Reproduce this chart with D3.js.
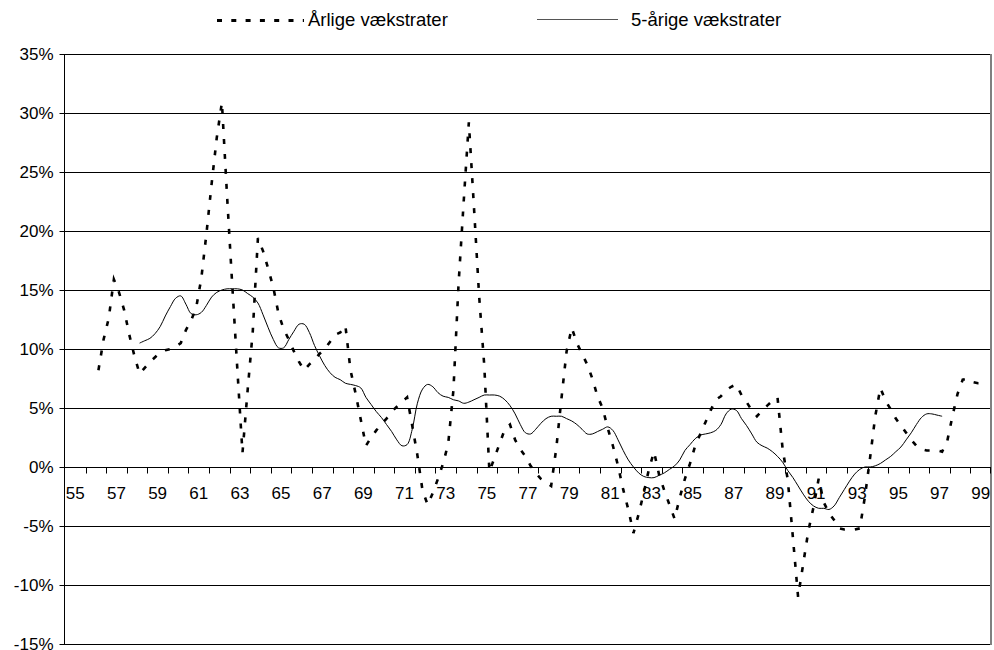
<!DOCTYPE html>
<html>
<head>
<meta charset="utf-8">
<script src="https://cdn.jsdelivr.net/npm/d3@7/dist/d3.min.js"></script>
<style>
  body { margin: 0; background: #fff; }
  svg { display: block; }
  text { font-family: Arial, "Liberation Sans", sans-serif; fill: #000; }
</style>
</head>
<body>
<div id="chart"></div>
<script>
// categories: years 1955-1999, labels every second year
var years = d3.range(55, 100);
var yearLabels = years.filter(function(d) { return d % 2 === 1; });
var yTicks = [-15, -10, -5, 0, 5, 10, 15, 20, 25, 30, 35];

var seriesNames = ["Årlige vækstrater", "5-årige vækstrater"];

// quarterly values, first value is 1956 Q3
var annualStart = [56, 3];
var annual = [
  8.2, 10.8,
  12.6, 15.9, 14.8, 13.3,
  11.2, 9.4, 7.9, 8.4,
  8.9, 9.3, 9.7, 9.9,
  10.0, 10.2, 10.5, 11.6,
  12.4, 13.5, 16.0, 19.8,
  24.0, 27.9, 30.9, 23.0,
  15.5, 8.3, 1.2, 6.5,
  11.5, 19.4, 18.3, 16.8,
  15.2, 13.0, 11.7, 10.8,
  9.8, 8.9, 8.2, 8.7,
  9.1, 9.6, 10.0, 10.6,
  11.2, 11.4, 12.0, 8.2,
  6.2, 4.0, 1.8, 2.5,
  3.1, 3.6, 4.1, 4.7,
  5.1, 5.5, 5.9, 3.5,
  1.0, -2.0, -3.2, -2.2,
  -1.0, 0.3, 2.0, 6.5,
  15.5, 22.5, 29.2, 22.0,
  14.5, 8.6, -0.4, 0.8,
  2.0, 3.2, 3.6, 2.3,
  1.5, 0.9, 0.1, -0.5,
  -1.0, -1.3, -1.6, 1.6,
  5.8, 9.8, 11.8, 10.5,
  9.6, 8.7, 7.5, 6.0,
  5.0, 3.3, 1.8, 0.1,
  -1.9, -3.6, -5.6, -4.0,
  -2.2, -0.2, 1.3, -0.7,
  -2.0, -3.2, -4.4, -2.6,
  -1.0, 0.3, 1.8, 2.8,
  3.8, 4.8, 5.7, 6.0,
  6.5, 6.8, 7.0, 6.1,
  5.5, 4.8, 4.3, 4.8,
  5.2, 5.6, 5.9, 1.5,
  -1.1, -6.0, -11.0, -8.2,
  -5.4, -3.4, -1.0, -3.0,
  -3.9, -4.5, -5.2, -5.3,
  -5.3, -5.3, -5.2, -2.5,
  0.8, 4.3, 6.7, 5.6,
  4.9, 4.1, 3.5, 2.9,
  2.3, 1.8, 1.5, 1.4,
  1.4, 1.4, 1.3, 2.2,
  4.3, 6.2, 7.4, 7.5,
  7.2, 7.1, 7.1
];

// quarterly values, first value is 1958 Q3
var fiveYearStart = [58, 3];
var fiveYear = [
  10.5, 10.7,
  10.9, 11.3, 11.9, 12.8,
  13.6, 14.3, 14.5, 13.8,
  13.0, 12.9, 13.1, 13.7,
  14.4, 14.8, 15.0, 15.1,
  15.1, 15.1, 15.0, 14.7,
  14.4, 13.9, 12.9, 11.8,
  10.8, 10.1, 10.1, 10.8,
  11.5, 12.1, 12.1, 11.4,
  10.3, 9.4, 8.6, 8.0,
  7.6, 7.4, 7.1, 7.0,
  6.9, 6.7, 5.9, 5.3,
  4.7, 4.2, 3.6, 3.0,
  2.3, 1.8, 1.9, 3.2,
  5.4, 6.6, 7.0, 6.8,
  6.3, 6.0, 5.9, 5.7,
  5.6, 5.4, 5.5, 5.7,
  5.9, 6.1, 6.1, 6.1,
  6.0, 5.7, 5.2, 4.5,
  3.6, 2.9, 2.8, 3.2,
  3.7, 4.1, 4.3, 4.3,
  4.3, 4.1, 3.9, 3.6,
  3.2, 2.8, 2.8, 3.0,
  3.2, 3.4, 3.1, 2.3,
  1.4, 0.6, 0.0, -0.5,
  -0.8, -0.9, -0.9, -0.7,
  -0.5, -0.2, 0.1, 0.6,
  1.4, 1.9, 2.4, 2.7,
  2.8, 2.9, 3.1, 3.6,
  4.5, 4.9, 4.8, 4.1,
  3.5, 2.8, 2.1, 1.8,
  1.6, 1.3, 0.9, 0.4,
  -0.3, -0.9, -1.6, -2.3,
  -2.9, -3.3, -3.5, -3.5,
  -3.6, -3.3, -2.6, -1.9,
  -1.2, -0.6, -0.2, 0.0,
  0.0, 0.1, 0.3, 0.6,
  0.9, 1.3, 1.7, 2.3,
  2.9, 3.6, 4.2, 4.5,
  4.5, 4.4, 4.3
];

(function() {
  var width = 994, height = 650;
  var plotLeft = 65, plotRight = 991, plotTop = 54, plotBottom = 644;

  var svg = d3.select("#chart").append("svg")
    .attr("width", width)
    .attr("height", height);

  var x = d3.scaleBand().domain(years).range([plotLeft, plotRight]).padding(0);
  var y = d3.scaleLinear().domain([-15, 35]).range([plotBottom, plotTop]);

  // position of a quarter, counted from a start [year, quarter]
  function qx(start, i) {
    var n = (start[1] - 1) + i;
    var yr = start[0] + Math.floor(n / 4);
    var q = n % 4;
    return x(yr) + (q + 0.5) * x.bandwidth() / 4;
  }

  function toPoints(start, values) {
    return values.map(function(v, i) { return [qx(start, i), y(v)]; });
  }

  // gridlines
  svg.append("g")
    .selectAll("line")
    .data(yTicks)
    .enter().append("line")
    .attr("x1", plotLeft - 1).attr("x2", plotRight)
    .attr("y1", function(d) { return Math.round(y(d)) + 0.5; })
    .attr("y2", function(d) { return Math.round(y(d)) + 0.5; })
    .attr("stroke", "#000")
    .attr("stroke-width", 1);

  // right frame
  svg.append("line")
    .attr("x1", plotRight).attr("x2", plotRight)
    .attr("y1", plotTop).attr("y2", plotBottom + 1)
    .attr("stroke", "#808080")
    .attr("stroke-width", 2);

  // y axis
  var yAxis = d3.axisLeft(y)
    .tickValues(yTicks)
    .tickSize(5)
    .tickPadding(6)
    .tickFormat(function(d) { return d + "%"; });

  var gy = svg.append("g")
    .attr("transform", "translate(" + (plotLeft - 0.5) + ",0)")
    .call(yAxis);
  gy.select(".domain").attr("stroke", "#000")
    .attr("d", "M0," + (plotTop + 0.5) + "V" + (plotBottom + 0.5));
  gy.selectAll(".tick")
    .attr("transform", function(d) { return "translate(0," + (Math.round(y(d)) + 0.5) + ")"; });
  gy.selectAll(".tick line").attr("stroke", "#000");
  gy.selectAll("text")
    .style("font-size", "17px")
    .style("font-family", "Arial, 'Liberation Sans', sans-serif")
    .attr("fill", "#000");

  // x axis at 0%
  var y0 = Math.round(y(0)) + 0.5;
  svg.append("line")
    .attr("x1", plotLeft - 1).attr("x2", plotRight)
    .attr("y1", y0).attr("y2", y0)
    .attr("stroke", "#000");

  svg.append("g")
    .selectAll("line")
    .data(years.slice(1).concat([100]))
    .enter().append("line")
    .attr("x1", function(d) { return d < 100 ? Math.round(x(d)) + 0.5 : plotRight - 0.5; })
    .attr("x2", function(d) { return d < 100 ? Math.round(x(d)) + 0.5 : plotRight - 0.5; })
    .attr("y1", y0).attr("y2", y0 + 6)
    .attr("stroke", "#000");

  svg.append("g")
    .selectAll("text")
    .data(yearLabels)
    .enter().append("text")
    .attr("x", function(d) { return x(d) + x.bandwidth() / 2; })
    .attr("y", y0 + 31)
    .attr("text-anchor", "middle")
    .style("font-size", "17px")
    .text(function(d) { return d; });

  // series
  var straight = d3.line();
  var smooth = d3.line().curve(d3.curveCatmullRom.alpha(0.5));

  svg.append("path")
    .attr("d", smooth(toPoints(fiveYearStart, fiveYear)))
    .attr("fill", "none")
    .attr("stroke", "#000")
    .attr("stroke-width", 1);

  svg.append("path")
    .attr("d", straight(toPoints(annualStart, annual)))
    .attr("fill", "none")
    .attr("stroke", "#000")
    .attr("stroke-width", 2.6)
    .attr("stroke-dasharray", "5,10");

  // legend
  var legend = svg.append("g");
  legend.append("line")
    .attr("x1", 217).attr("x2", 304)
    .attr("y1", 20.5).attr("y2", 20.5)
    .attr("stroke", "#000")
    .attr("stroke-width", 3)
    .attr("stroke-dasharray", "5,9.3");
  legend.append("text")
    .attr("x", 308).attr("y", 26)
    .style("font-size", "18.5px")
    .text(seriesNames[0]);
  legend.append("line")
    .attr("x1", 537).attr("x2", 618)
    .attr("y1", 19.5).attr("y2", 19.5)
    .attr("stroke", "#555")
    .attr("stroke-width", 1);
  legend.append("text")
    .attr("x", 631).attr("y", 26)
    .style("font-size", "18.5px")
    .text(seriesNames[1]);
})();
</script>
</body>
</html>
